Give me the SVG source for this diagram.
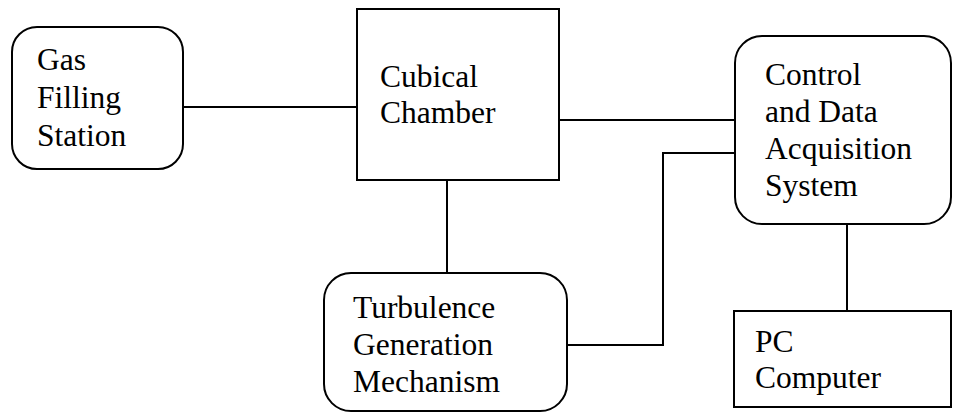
<svg xmlns="http://www.w3.org/2000/svg" width="953" height="413" viewBox="0 0 953 413">
<style>
.box{fill:#fff;stroke:#000;stroke-width:2}
.wire{fill:none;stroke:#000;stroke-width:2}
text{font-family:"Liberation Serif","Times New Roman",serif;font-size:31.5px;fill:#000}
</style>
<rect width="953" height="413" fill="#fff"/>
<g id="connectors">
<path class="wire" d="M183 107H357"/>
<path class="wire" d="M559 120H735"/>
<path class="wire" d="M447 180V273"/>
<path class="wire" d="M567 345H663V153H735"/>
<path class="wire" d="M847 224V311"/>
</g>
<g id="gas">
<rect class="box" x="12" y="27" width="171" height="142" rx="25"/>
<text x="37" y="70">Gas</text>
<text x="37" y="108">Filling</text>
<text x="37" y="146">Station</text>
</g>
<g id="chamber">
<rect class="box" x="357" y="9" width="202" height="171"/>
<text x="380" y="87">Cubical</text>
<text x="380" y="123">Chamber</text>
</g>
<g id="control">
<rect class="box" x="735" y="36" width="216" height="188" rx="27"/>
<text x="765" y="85">Control</text>
<text x="765" y="122">and Data</text>
<text x="765" y="159">Acquisition</text>
<text x="765" y="196">System</text>
</g>
<g id="turbulence">
<rect class="box" x="324" y="273" width="243" height="138" rx="27"/>
<text x="353" y="318">Turbulence</text>
<text x="353" y="355">Generation</text>
<text x="353" y="392">Mechanism</text>
</g>
<g id="pc">
<rect class="box" x="734" y="311" width="217" height="96"/>
<text x="755" y="352">PC</text>
<text x="755" y="388">Computer</text>
</g>
</svg>
